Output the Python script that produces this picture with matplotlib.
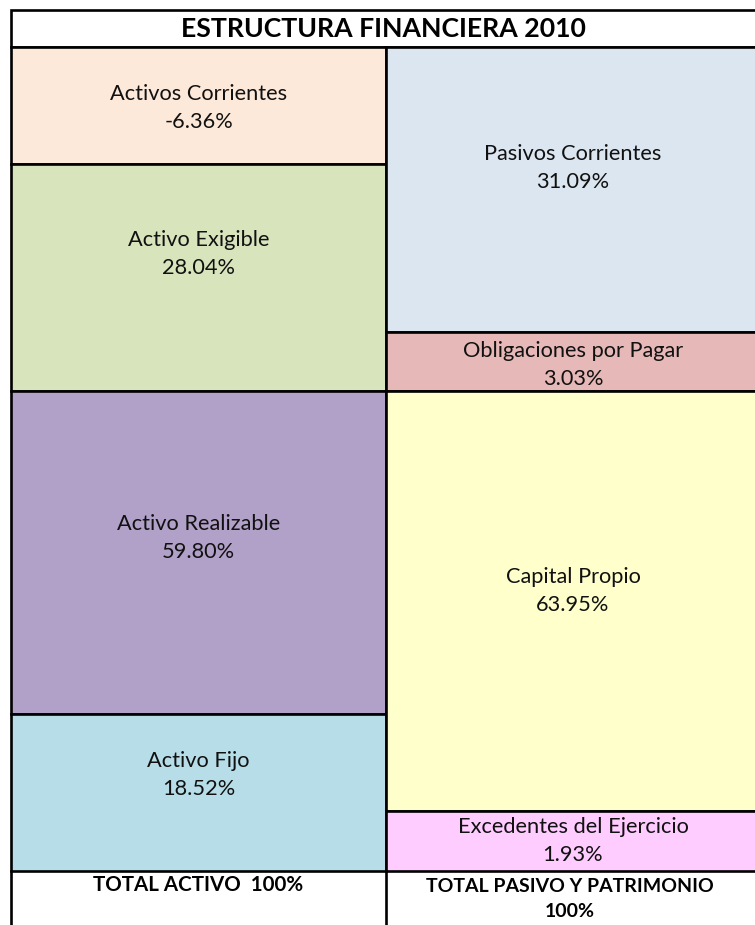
import matplotlib
matplotlib.use("Agg")
import matplotlib.pyplot as plt
from matplotlib.patches import Rectangle

title = "ESTRUCTURA FINANCIERA 2010"

activo_labels = ["Activos Corrientes", "Activo Exigible", "Activo Realizable", "Activo Fijo"]
activo_pct = [-6.36, 28.04, 59.80, 18.52]
activo_colors = ["#FDE9D9", "#D8E4BC", "#B1A0C7", "#B7DEE8"]

pasivo_labels = ["Pasivos Corrientes", "Obligaciones por Pagar", "Capital Propio", "Excedentes del Ejercicio"]
pasivo_pct = [31.09, 3.03, 63.95, 1.93]
pasivo_colors = ["#DCE6F1", "#E6B8B7", "#FFFFCC", "#FFCCFF"]

total_activo = "TOTAL ACTIVO  100%"
total_pasivo = "TOTAL PASIVO Y PATRIMONIO\n100%"

# layout in pixels (sheet cell boundaries)
W, H = 755, 925
x_left, x_mid, x_right = 11, 386, 760
y_top, y_head = 10, 47
left_rows = [47, 164, 391, 714, 871]
right_rows = [47, 332, 391, 811, 871]
left_text_y = [108, 254, 538, 775]
right_text_y = [168, 365, 591, 841]

plt.rcParams['font.family'] = ['Lato', 'DejaVu Sans']
fig = plt.figure(figsize=(W / 100, H / 100), dpi=100)
ax = fig.add_axes([0, 0, 1, 1])
ax.set_xlim(0, W)
ax.set_ylim(H, 0)
ax.axis('off')

lw = 1.9
fs = 15.7


def draw_column(x0, x1, rows, labels, pcts, colors, text_y):
    for i in range(len(labels)):
        ax.add_patch(Rectangle((x0, rows[i]), x1 - x0, rows[i + 1] - rows[i],
                               facecolor=colors[i], edgecolor='black', linewidth=lw))
        ax.text((x0 + x1) / 2, text_y[i], "%s\n%.2f%%" % (labels[i], pcts[i]),
                ha='center', va='center', fontsize=fs, color='#111111', linespacing=1.55)


# title row
ax.add_patch(Rectangle((x_left, y_top), x_right - x_left, y_head - y_top,
                       facecolor='white', edgecolor='black', linewidth=lw))
ax.text(383, 29, title, ha='center', va='center',
        fontsize=19.2, fontweight='bold')

draw_column(x_left, x_mid, left_rows, activo_labels, activo_pct, activo_colors, left_text_y)
draw_column(x_mid, x_right, right_rows, pasivo_labels, pasivo_pct, pasivo_colors, right_text_y)

# totals row
ax.plot([x_left, x_left], [871, H + 5], color='black', linewidth=lw)
ax.plot([x_mid, x_mid], [871, H + 5], color='black', linewidth=lw)
ax.text(198, 885, total_activo, ha='center', va='center',
        fontsize=14.8, fontweight='bold')
ax.text(570, 899, total_pasivo, ha='center', va='center',
        fontsize=14, fontweight='bold', linespacing=1.6)

fig.savefig("out.png", dpi=100)
